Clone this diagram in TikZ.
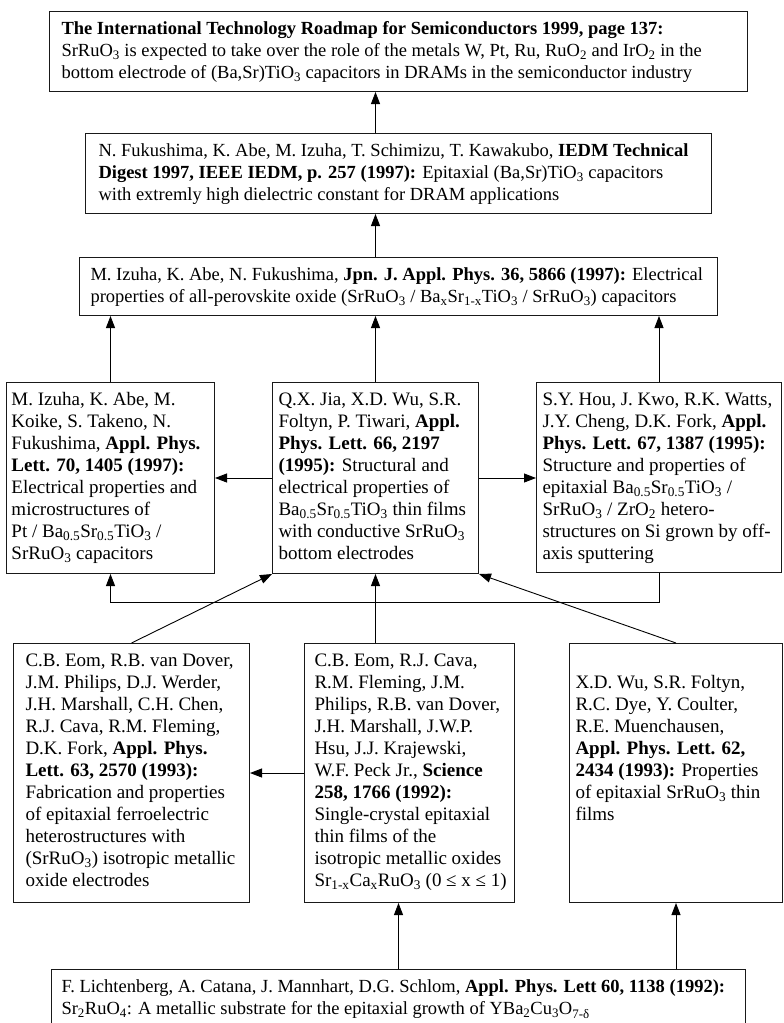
\documentclass[tikz,border=0pt]{standalone}
\usepackage{fontspec}
\setmainfont{Liberation Serif}
\usetikzlibrary{arrows.meta}

\newcommand{\low}[1]{\textsubscript{#1}}
\newcommand{\pubtext}[3]{\parbox[t][#2][t]{#1}{\begin{tabular}[t]{@{}l@{}}#3\end{tabular}}}

\begin{document}
\begin{tikzpicture}[x=1pt, y=-1pt,
			font=\fontsize{19}{22}\selectfont,
			pub/.style={draw=black!90, line width=1pt, anchor=north west, inner ysep=8pt, inner xsep=#1},
			pub/.default=6pt,
			wide/.style={font=\fontsize{18.5}{22}\selectfont},
			link/.style={-{Triangle[length=12pt,width=9pt]}, line width=0.9pt}]

			\path[use as bounding box, fill=white] (0,0) rectangle (784,1023);

			% top of the tree
			\node[pub=12pt, wide] (roadmap) at (49,11) {\pubtext{674pt}{64pt}{%
				\textbf{The International Technology Roadmap for Semiconductors 1999, page 137:}\\
				SrRuO\low{3} is expected to take over the role of the metals W, Pt, Ru, RuO\low{2} and IrO\low{2} in the\\
				bottom electrode of (Ba,Sr)TiO\low{3} capacitors in DRAMs in the semiconductor industry}};
			\node[pub=13pt, wide] (iedm) at (85,133) {\pubtext{600pt}{64pt}{%
				N. Fukushima, K. Abe, M. Izuha, T. Schimizu, T. Kawakubo, \textbf{IEDM Technical}\\
				\textbf{Digest 1997, IEEE IEDM, p. 257 (1997):} Epitaxial (Ba,Sr)TiO\low{3} capacitors\\
				with extremly high dielectric constant for DRAM applications}};
			\node[pub=11pt, wide] (jjap) at (79,257) {\pubtext{616pt}{42pt}{%
				M. Izuha, K. Abe, N. Fukushima, \textbf{Jpn. J. Appl. Phys. 36, 5866 (1997):} Electrical\\
				properties of all-perovskite oxide (SrRuO\low{3} / Ba\low{x}Sr\low{1-x}TiO\low{3} / SrRuO\low{3}) capacitors}};

			% 1995-1997
			\node[pub=5pt] (izuha) at (6,382) {\pubtext{198pt}{175pt}{%
				M. Izuha, K. Abe, M.\\ Koike, S. Takeno, N.\\ Fukushima, \textbf{Appl. Phys.}\\
				\textbf{Lett. 70, 1405 (1997):}\\ Electrical properties and\\ microstructures of\\
				Pt / Ba\low{0.5}Sr\low{0.5}TiO\low{3} /\\ SrRuO\low{3} capacitors}};
			\node[pub] (jia) at (272,382) {\pubtext{194pt}{175pt}{%
				Q.X. Jia, X.D. Wu, S.R.\\ Foltyn, P. Tiwari, \textbf{Appl.}\\ \textbf{Phys. Lett. 66, 2197}\\
				\textbf{(1995):} Structural and\\ electrical properties of\\ Ba\low{0.5}Sr\low{0.5}TiO\low{3} thin films\\
				with conductive SrRuO\low{3}\\ bottom electrodes}};
			\node[pub] (hou) at (536,382) {\pubtext{233pt}{174pt}{%
				S.Y. Hou, J. Kwo, R.K. Watts,\\ J.Y. Cheng, D.K. Fork, \textbf{Appl.}\\ \textbf{Phys. Lett. 67, 1387 (1995):}\\
				Structure and properties of\\ epitaxial Ba\low{0.5}Sr\low{0.5}TiO\low{3} /\\ SrRuO\low{3} / ZrO\low{2} hetero-\\
				structures on Si grown by off-\\ axis sputtering}};

			% 1992-1993
			\node[pub=12pt] (eom) at (13,643) {\pubtext{212pt}{243pt}{%
				C.B. Eom, R.B. van Dover,\\ J.M. Philips, D.J. Werder,\\ J.H. Marshall, C.H. Chen,\\
				R.J. Cava, R.M. Fleming,\\ D.K. Fork, \textbf{Appl. Phys.}\\ \textbf{Lett. 63, 2570 (1993):}\\
				Fabrication and properties\\ of epitaxial ferroelectric\\ heterostructures with\\
				(SrRuO\low{3}) isotropic metallic\\ oxide electrodes}};
			\node[pub=10pt] (science) at (304,643) {\pubtext{190pt}{243pt}{%
				C.B. Eom, R.J. Cava,\\ R.M. Fleming, J.M.\\ Philips, R.B. van Dover,\\ J.H. Marshall, J.W.P.\\
				Hsu, J.J. Krajewski,\\ W.F. Peck Jr., \textbf{Science}\\ \textbf{258, 1766 (1992):}\\
				Single-crystal epitaxial\\ thin films of the\\ isotropic metallic oxides\\
				Sr\low{1-x}Ca\low{x}RuO\low{3} (0 ≤ x ≤ 1)}};
			\node[pub] (wu) at (569,643) {\pubtext{201pt}{243pt}{%
				\\ X.D. Wu, S.R. Foltyn,\\ R.C. Dye, Y. Coulter,\\ R.E. Muenchausen,\\
				\textbf{Appl. Phys. Lett. 62,}\\ \textbf{2434 (1993):} Properties\\ of epitaxial SrRuO\low{3} thin\\ films}};

			% bottom, cut by the page
			\node[pub=10pt, wide] (lichtenberg) at (51,969) {\pubtext{674pt}{46pt}{%
				F. Lichtenberg, A. Catana, J. Mannhart, D.G. Schlom, \textbf{Appl. Phys. Lett 60, 1138 (1992):}\\
				Sr\low{2}RuO\low{4}: A metallic substrate for the epitaxial growth of YBa\low{2}Cu\low{3}O\low{7-δ}}};

			\draw[link] (iedm.north -| jia) -- (roadmap.south -| jia);
			\draw[link] (jjap.north -| jia) -- (iedm.south -| jia);
			\draw[link] (izuha.north) -- (izuha.north |- jjap.south);
			\draw[link] (jia.north) -- (jia.north |- jjap.south);
			\draw[link] (hou.north) -- (hou.north |- jjap.south);
			\draw[link] (jia.west) -- (izuha.east |- jia.west);
			\draw[link] (jia.east) -- (hou.west |- jia.east);
			\draw[link] (hou.south) -- ++(0,29) -| (izuha.south);
			\draw[link] (eom.north) -- (jia.south west);
			\draw[link] (science.north -| jia) -- (jia.south);
			\draw[link] (wu.north) -- (jia.south east);
			\draw[link] (science.west) -- (eom.east |- science.west);
			\draw[link] (lichtenberg.north) -- (lichtenberg.north |- science.south);
			\draw[link] (wu.south |- lichtenberg.north) -- (wu.south);
			\end{tikzpicture}
\end{document}
